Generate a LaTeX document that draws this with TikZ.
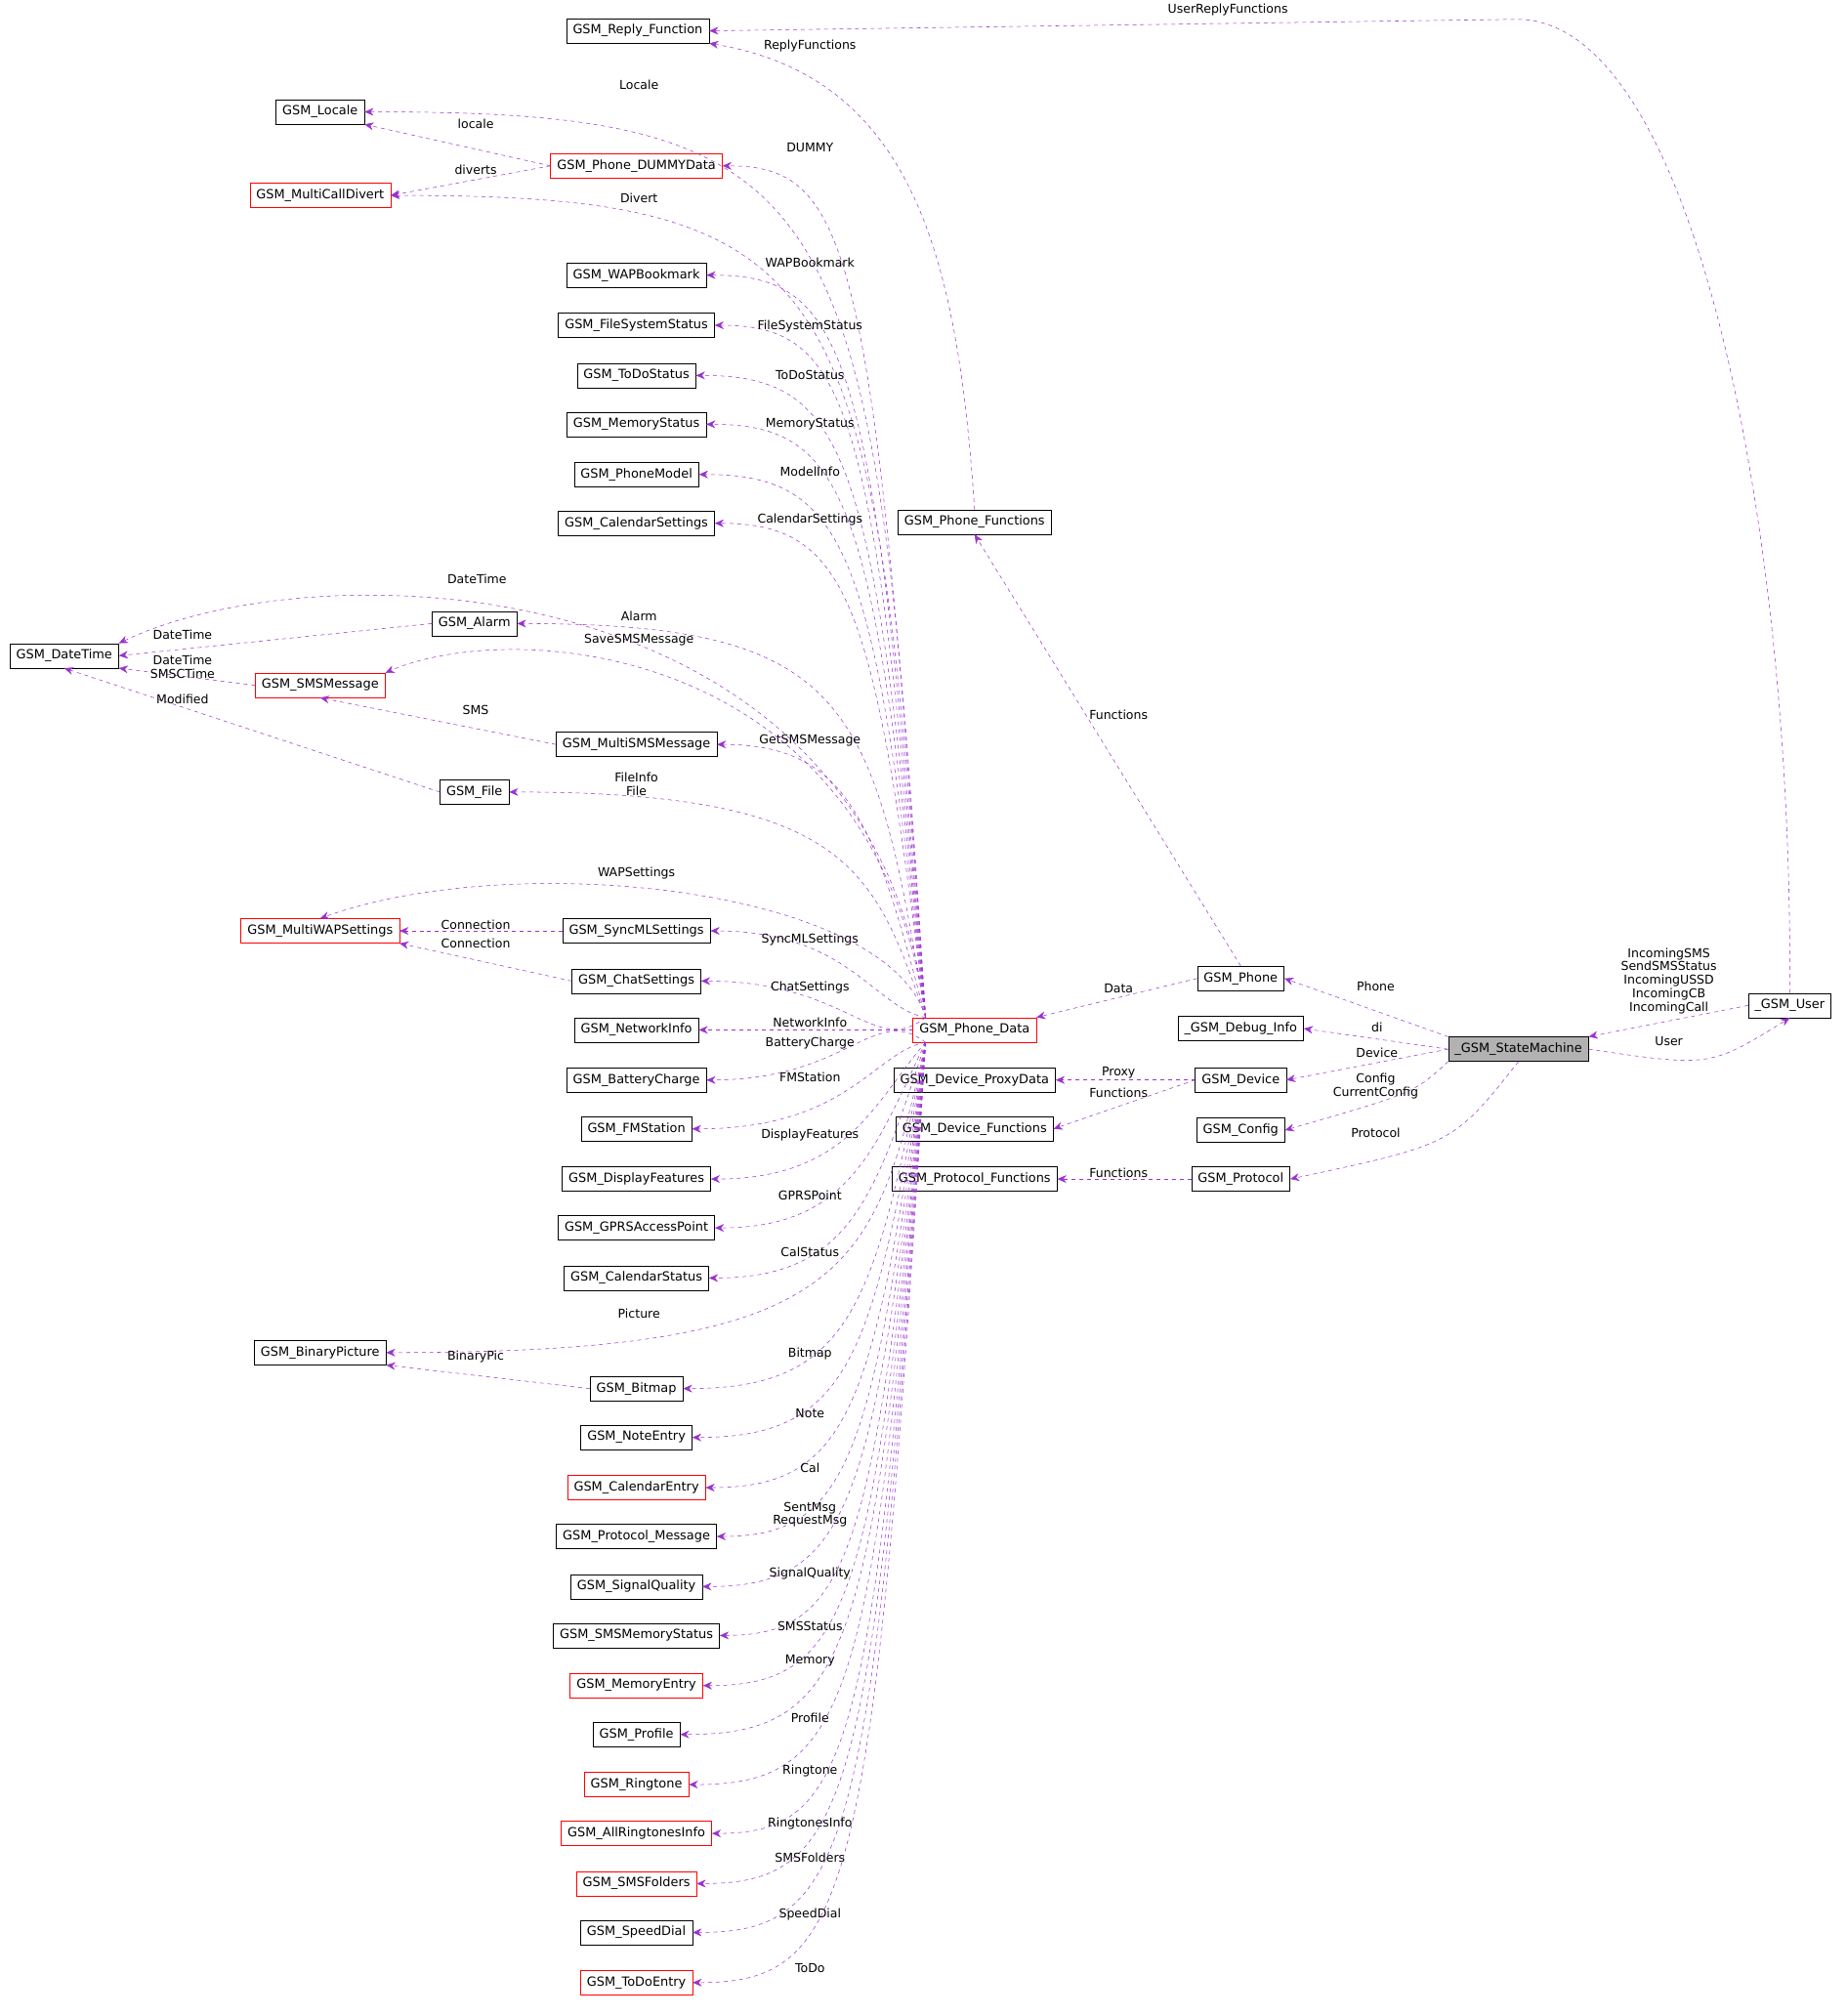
\documentclass[tikz,border=0pt]{standalone}
\usepackage{fontspec}
\setsansfont{DejaVu Sans}
\usetikzlibrary{calc,arrows.meta}
\definecolor{edgecol}{RGB}{154,50,205}
\begin{document}
\begin{tikzpicture}[x=1pt,y=1pt,yscale=-1,
  cls/.style={draw,thin,font=\sffamily\fontsize{9.8}{11}\selectfont,inner xsep=5pt,inner ysep=3pt,minimum height=19pt},
  rcls/.style={cls,draw=red},
  dep/.style={draw=edgecol,dashed,thin,-{Stealth[length=7pt,width=6pt]}},
  lbl/.style={font=\sffamily\fontsize{9.5}{10.5}\selectfont,align=center,inner sep=0.5pt}]
\useasboundingbox (0,0) rectangle (1436,1568);

% classes
\node[cls] (rf) at (496,24) {GSM\_Reply\_Function};
\node[cls] (loc) at (249,87) {GSM\_Locale};
\node[rcls] (dum) at (495,129) {GSM\_Phone\_DUMMYData};
\node[rcls] (mcd) at (249,152) {GSM\_MultiCallDivert};
\node[cls] (wap) at (495,214) {GSM\_WAPBookmark};
\node[cls] (fss) at (495,253) {GSM\_FileSystemStatus};
\node[cls] (tds) at (495,292) {GSM\_ToDoStatus};
\node[cls] (mst) at (495,330) {GSM\_MemoryStatus};
\node[cls] (pmo) at (495,369) {GSM\_PhoneModel};
\node[cls] (cst) at (495,407) {GSM\_CalendarSettings};
\node[cls] (pf) at (758,406) {GSM\_Phone\_Functions};
\node[cls] (dt) at (50,510) {GSM\_DateTime};
\node[cls] (alm) at (369,485) {GSM\_Alarm};
\node[rcls] (sms) at (249,533) {GSM\_SMSMessage};
\node[cls] (msm) at (495,579) {GSM\_MultiSMSMessage};
\node[cls] (fil) at (369,616) {GSM\_File};
\node[rcls] (mws) at (249,724) {GSM\_MultiWAPSettings};
\node[cls] (syn) at (495,724) {GSM\_SyncMLSettings};
\node[cls] (cha) at (495,763) {GSM\_ChatSettings};
\node[cls] (net) at (495,801) {GSM\_NetworkInfo};
\node[rcls] (pd) at (758,801) {GSM\_Phone\_Data};
\node[cls] (bat) at (495,840) {GSM\_BatteryCharge};
\node[cls] (fms) at (495,878) {GSM\_FMStation};
\node[cls] (dis) at (495,917) {GSM\_DisplayFeatures};
\node[cls] (gpr) at (495,955) {GSM\_GPRSAccessPoint};
\node[cls] (cas) at (495,994) {GSM\_CalendarStatus};
\node[cls] (bpi) at (249,1052) {GSM\_BinaryPicture};
\node[cls] (bmp) at (495,1080) {GSM\_Bitmap};
\node[cls] (not) at (495,1118) {GSM\_NoteEntry};
\node[rcls] (cal) at (495,1157) {GSM\_CalendarEntry};
\node[cls] (pms) at (495,1195) {GSM\_Protocol\_Message};
\node[cls] (sig) at (495,1234) {GSM\_SignalQuality};
\node[cls] (smm) at (495,1272) {GSM\_SMSMemoryStatus};
\node[rcls] (mem) at (495,1311) {GSM\_MemoryEntry};
\node[cls] (pro) at (495,1349) {GSM\_Profile};
\node[rcls] (rin) at (495,1388) {GSM\_Ringtone};
\node[rcls] (ari) at (495,1426) {GSM\_AllRingtonesInfo};
\node[rcls] (fol) at (495,1465) {GSM\_SMSFolders};
\node[cls] (spd) at (495,1503) {GSM\_SpeedDial};
\node[rcls] (tde) at (495,1542) {GSM\_ToDoEntry};
\node[cls] (ph) at (965,761) {GSM\_Phone};
\node[cls] (dbg) at (965,800) {\_GSM\_Debug\_Info};
\node[cls] (dpx) at (758,840) {GSM\_Device\_ProxyData};
\node[cls] (dev) at (965,840) {GSM\_Device};
\node[cls] (dfn) at (758,878) {GSM\_Device\_Functions};
\node[cls] (cfg) at (965,879) {GSM\_Config};
\node[cls] (pfn) at (758,917) {GSM\_Protocol\_Functions};
\node[cls] (prt) at (965,917) {GSM\_Protocol};
\node[cls,fill=gray!60] (sm) at (1181,816) {\_GSM\_StateMachine};
\node[cls] (usr) at (1392,782) {\_GSM\_User};

\coordinate (up) at ($(pd.north west)+(10,0)$);
\coordinate (dn) at ($(pd.south west)+(10,0)$);

% members of GSM_Phone_Data above it
\foreach \n/\l/\lx/\ly in {loc/Locale/497/66, dum/DUMMY/630/115, mcd/Divert/497/154,
  wap/WAPBookmark/630/204, fss/FileSystemStatus/630/254, tds/ToDoStatus/630/292,
  mst/MemoryStatus/630/330, pmo/ModelInfo/630/367, cst/CalendarSettings/630/404,
  alm/Alarm/497/479, msm/GetSMSMessage/630/576, fil/{FileInfo\\File}/495/610,
  syn/SyncMLSettings/630/731, cha/ChatSettings/630/768}
{
  \draw[dep] (up) .. controls ($(\n.east -| up)+(-40,60)$) and ($(\n.east -| up)+(-60,0)$) .. (\n.east);
  \node[lbl] at (\lx,\ly) {\l};
}
\draw[dep] (pd.west) -- (net.east);
\node[lbl] at (630,795) {NetworkInfo};

% members of GSM_Phone_Data below it
\foreach \n/\l/\lx/\ly in {bat/BatteryCharge/630/811, fms/FMStation/630/838,
  dis/DisplayFeatures/630/883, gpr/GPRSPoint/630/930, cas/CalStatus/630/974,
  bpi/Picture/497/1022, bmp/Bitmap/630/1053, not/Note/630/1099, cal/Cal/630/1142,
  pms/{SentMsg\\RequestMsg}/630/1178, sig/SignalQuality/630/1224, smm/SMSStatus/630/1265,
  mem/Memory/630/1292, pro/Profile/630/1336, rin/Ringtone/630/1377,
  ari/RingtonesInfo/630/1418, fol/SMSFolders/630/1445, spd/SpeedDial/630/1489,
  tde/ToDo/630/1531}
{
  \draw[dep] (dn) .. controls ($(\n.east -| dn)+(-40,-60)$) and ($(\n.east -| dn)+(-60,0)$) .. (\n.east);
  \node[lbl] at (\lx,\ly) {\l};
}

% long curves of GSM_Phone_Data
\draw[dep] (up) .. controls (680,440) and (250,425) .. (dt.north east);
\node[lbl] at (371,450) {DateTime};
\draw[dep] (up) .. controls (680,500) and (400,480) .. (sms.north east);
\node[lbl] at (497,498) {SaveSMSMessage};
\draw[dep] (up) .. controls (690,690) and (400,660) .. (mws.north);
\node[lbl] at (495,679) {WAPSettings};

% other links
\draw[dep] (usr.north) .. controls (1395,420) and (1320,15) .. (1180,15) -- (rf.east);
\node[lbl] at (955,8) {UserReplyFunctions};
\draw[dep] (pf.north) .. controls (745,200) and (710,60) .. (rf.south east);
\node[lbl] at (630,36) {ReplyFunctions};
\draw[dep] (dum.west) -- (loc.south east);
\node[lbl] at (370,96) {locale};
\draw[dep] (dum.west) -- (mcd.east);
\node[lbl] at (370,132) {diverts};
\draw[dep] (alm.west) -- (dt.east);
\node[lbl] at (142,494) {DateTime};
\draw[dep] (sms.west) -- (dt.south east);
\node[lbl] at (142,519) {DateTime\\SMSCTime};
\draw[dep] (fil.west) -- (dt.south);
\node[lbl] at (142,544) {Modified};
\draw[dep] (msm.west) -- (sms.south);
\node[lbl] at (370,552) {SMS};
\draw[dep] (syn.west) -- (mws.east);
\node[lbl] at (370,719) {Connection};
\draw[dep] (cha.west) -- (mws.south east);
\node[lbl] at (370,734) {Connection};
\draw[dep] (bmp.west) -- (bpi.south east);
\node[lbl] at (370,1055) {BinaryPic};
\draw[dep] (ph.north) -- (pf.south);
\node[lbl] at (870,556) {Functions};
\draw[dep] (ph.west) -- (pd.north east);
\node[lbl] at (870,769) {Data};
\draw[dep] (sm.north west) -- (ph.east);
\node[lbl] at (1070,767) {Phone};
\draw[dep] (sm.west) -- (dbg.east);
\node[lbl] at (1071,799) {di};
\draw[dep] (sm.west) -- (dev.east);
\node[lbl] at (1071,819) {Device};
\draw[dep] (sm.south west) .. controls (1100,850) .. (cfg.east);
\node[lbl] at (1070,845) {Config\\CurrentConfig};
\draw[dep] (sm.south) .. controls (1130,890) .. (prt.east);
\node[lbl] at (1070,881) {Protocol};
\draw[dep] (sm.east) .. controls (1330,830) .. (usr.south);
\node[lbl] at (1298,810) {User};
\draw[dep] (usr.west) -- (sm.north east);
\node[lbl] at (1298,763) {IncomingSMS\\SendSMSStatus\\IncomingUSSD\\IncomingCB\\IncomingCall};
\draw[dep] (dev.west) -- (dpx.east);
\node[lbl] at (870,834) {Proxy};
\draw[dep] (dev.west) -- (dfn.east);
\node[lbl] at (870,850) {Functions};
\draw[dep] (prt.west) -- (pfn.east);
\node[lbl] at (870,912) {Functions};
\end{tikzpicture}
\end{document}
